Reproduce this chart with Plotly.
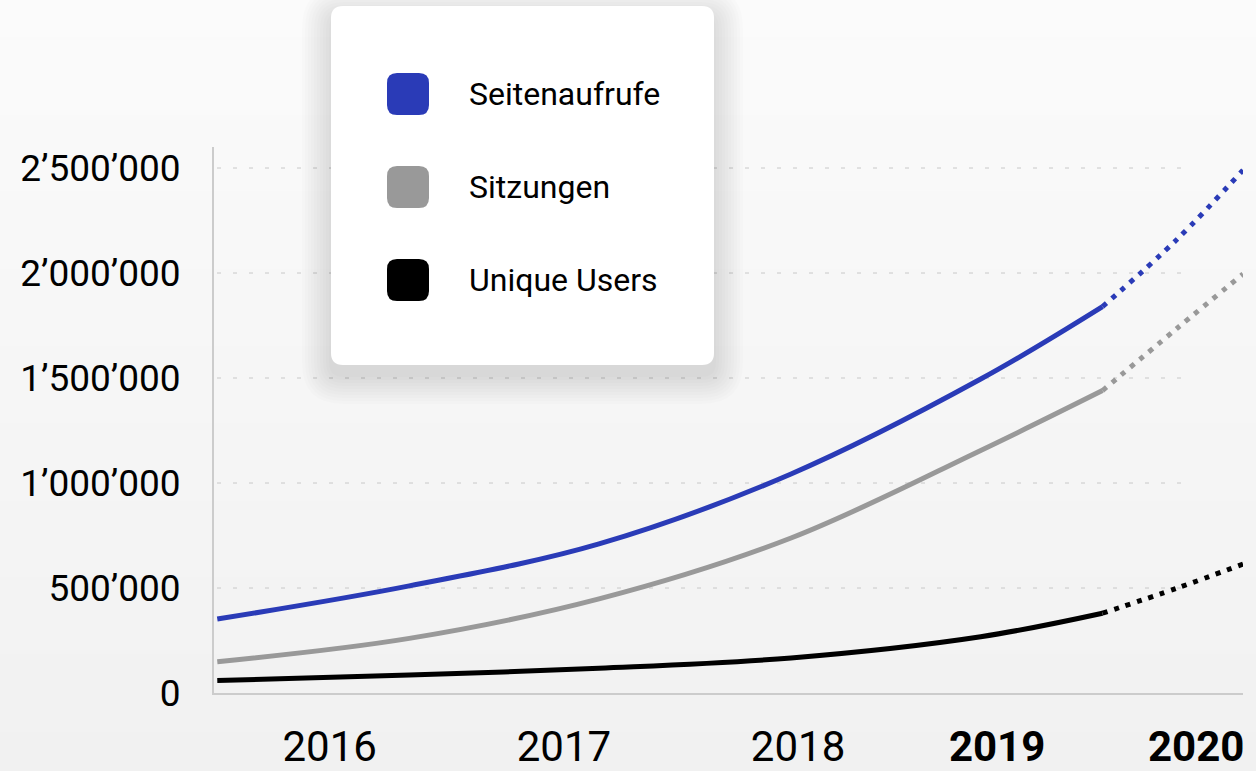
import plotly.graph_objects as go

# ---------------- data ----------------
years_actual = [2015.52, 2016.34, 2017.15, 2017.97, 2018.78, 2019.30]
seitenaufrufe = [352000, 510000, 710000, 1043000, 1495000, 1840000]
sitzungen = [149000, 260000, 448000, 738000, 1155000, 1440000]
unique_users = [59000, 86000, 118000, 167000, 268000, 380000]

years_forecast = [2019.30, 2019.62, 2019.90]
seitenaufrufe_fc = [1840000, 2162000, 2490000]
sitzungen_fc = [1440000, 1738000, 1995000]
unique_users_fc = [380000, 500000, 614000]

series_names = ["Seitenaufrufe", "Sitzungen", "Unique Users"]
series_colors = ["#2a3bb7", "#999999", "#000000"]

x_tick_pos = [2016, 2017, 2018, 2018.85, 2019.70]
x_tick_text = ["2016", "2017", "2018", "<b>2019</b>", "<b>2020</b>"]
y_tick_vals = [0, 500000, 1000000, 1500000, 2000000, 2500000]
y_tick_text = ["0", "500’000", "1’000’000", "1’500’000", "2’000’000", "2’500’000"]

# ---------------- layout geometry ----------------
W, H = 1256, 771
ML, MR, MT, MB = 214, 13, 147, 78
PW, PH = W - ML - MR, H - MT - MB


def px_x(px):
    return (px - ML) / PW


def px_y(py):
    return (H - MB - py) / PH


def rounded_rect(x0, y0, x1, y1, r):
    X0, X1 = px_x(x0), px_x(x1)
    Y0, Y1 = px_y(y0), px_y(y1)
    rx, ry = r / PW, r / PH
    return (f"M {X0+rx},{Y0} L {X1-rx},{Y0} Q {X1},{Y0} {X1},{Y0-ry} "
            f"L {X1},{Y1+ry} Q {X1},{Y1} {X1-rx},{Y1} "
            f"L {X0+rx},{Y1} Q {X0},{Y1} {X0},{Y1+ry} "
            f"L {X0},{Y0-ry} Q {X0},{Y0} {X0+rx},{Y0} Z")


fig = go.Figure()

actual = [seitenaufrufe, sitzungen, unique_users]
forecast = [seitenaufrufe_fc, sitzungen_fc, unique_users_fc]
for name, col, ya, yf in zip(series_names, series_colors, actual, forecast):
    fig.add_trace(go.Scatter(x=years_actual, y=ya, mode="lines", name=name,
                             line=dict(color=col, width=5, shape="spline", smoothing=1.0),
                             showlegend=False))
    fig.add_trace(go.Scatter(x=years_forecast, y=yf, mode="lines", name=name + " (Prognose)",
                             line=dict(color=col, width=5, shape="spline", dash="5px,7px"),
                             showlegend=False))

shapes = []
n_bands = 40
top_c, bot_c = 251, 241
for i in range(n_bands):
    c = round(top_c + (bot_c - top_c) * i / (n_bands - 1))
    y_top = H * i / n_bands - 1
    y_bot = H * (i + 1) / n_bands + 1
    shapes.append(dict(type="rect", xref="paper", yref="paper",
                       x0=px_x(-2), x1=px_x(W + 2), y0=px_y(y_bot), y1=px_y(y_top),
                       fillcolor=f"rgb({c},{c},{c})", line=dict(width=0), layer="below"))
for v in y_tick_vals[1:]:
    shapes.append(dict(type="line", xref="paper", yref="y", x0=px_x(217), x1=px_x(1184),
                       y0=v, y1=v, line=dict(color="#c8c8c8", width=1, dash="4px,12px"),
                       layer="below"))
for i in range(10):
    e = 2 + i * 3
    shapes.append(dict(type="path", xref="paper", yref="paper",
                       path=rounded_rect(331 - e, 6 - e + 10, 714 + e, 365 + e + 10, 12 + e),
                       fillcolor="rgba(0,0,0,0.011)", line=dict(width=0), layer="above"))
shapes.append(dict(type="path", xref="paper", yref="paper",
                   path=rounded_rect(331, 6, 714, 365, 12),
                   fillcolor="#ffffff", line=dict(width=0), layer="above"))
legend_centers = [94, 187, 280]
annotations = []
for name, col, cy in zip(series_names, series_colors, legend_centers):
    shapes.append(dict(type="path", xref="paper", yref="paper",
                       path=rounded_rect(387, cy - 21, 429, cy + 21, 10),
                       fillcolor=col, line=dict(width=0), layer="above"))
    annotations.append(dict(xref="paper", yref="paper", x=px_x(467), y=px_y(cy),
                            text=name, showarrow=False, xanchor="left", yanchor="middle",
                            font=dict(family="Roboto", size=32, color="#000000")))

fig.update_layout(
    width=W, height=H, autosize=False,
    margin=dict(l=ML, r=MR, t=MT, b=MB, pad=0, autoexpand=False),
    paper_bgcolor="#f6f6f6", plot_bgcolor="rgba(0,0,0,0)",
    font=dict(family="Roboto", color="#000000"),
    shapes=shapes, annotations=annotations,
    showlegend=False,
    xaxis=dict(range=[2015.506, 2019.90], tickmode="array", tickvals=x_tick_pos,
               ticktext=x_tick_text, showgrid=False, zeroline=False,
               showline=True, linecolor="#cccccc", linewidth=2, automargin=False,
               ticks="", tickfont=dict(family="Roboto", size=42, color="#000000"),
               ticklabelstandoff=16, fixedrange=True),
    yaxis=dict(range=[0, 2600000], tickmode="array", tickvals=y_tick_vals,
               ticktext=y_tick_text, showgrid=False, zeroline=False,
               showline=True, linecolor="#cccccc", linewidth=2, automargin=False,
               ticks="", tickfont=dict(family="Roboto", size=37, color="#000000"),
               ticklabelstandoff=24, fixedrange=True),
)

fig.write_html("out.html", config={"displayModeBar": False},
               post_script="document.body.style.margin='0px';document.body.style.overflow='hidden';")
